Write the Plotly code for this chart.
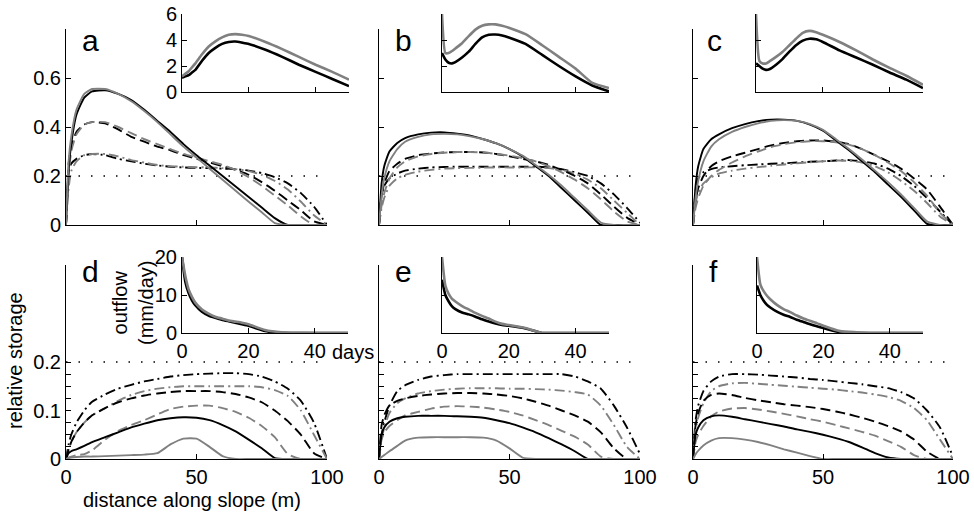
import plotly.graph_objects as go

W, H = 974, 515

# ---------------- data ----------------
# distance along slope (m) for main panels
X = [0, 1, 2, 4, 7, 10, 15, 20, 25, 30, 35, 40, 45, 50, 55, 60, 65, 70, 75, 80, 85, 90, 95, 100]
# days for inset panels
T = [0, 1, 2, 3, 4, 6, 8, 10, 12, 14, 16, 18, 20, 25, 30, 35, 40, 45, 50]

THR_X = [0, 100]
THR_Y = [0.2, 0.2]

# panel a
a_sk = [0, 0.22, 0.33, 0.45, 0.52, 0.545, 0.55, 0.535, 0.51, 0.47, 0.425, 0.38, 0.33, 0.285, 0.243, 0.20, 0.157, 0.114, 0.071, 0.028, 0, 0, 0, 0]
a_sg = [0, 0.26, 0.36, 0.47, 0.535, 0.555, 0.555, 0.535, 0.505, 0.465, 0.42, 0.37, 0.32, 0.275, 0.23, 0.185, 0.14, 0.095, 0.052, 0.008, 0, 0, 0, 0]
a_dk = [0, 0.25, 0.32, 0.38, 0.41, 0.42, 0.415, 0.39, 0.36, 0.34, 0.32, 0.305, 0.285, 0.27, 0.255, 0.24, 0.225, 0.205, 0.175, 0.14, 0.10, 0.06, 0.015, 0]
a_dg = [0, 0.2, 0.3, 0.37, 0.41, 0.42, 0.42, 0.40, 0.375, 0.35, 0.33, 0.31, 0.29, 0.275, 0.26, 0.245, 0.225, 0.195, 0.16, 0.12, 0.08, 0.035, 0, 0]
a_ddk = [0, 0.22, 0.25, 0.27, 0.285, 0.29, 0.285, 0.27, 0.26, 0.25, 0.243, 0.238, 0.235, 0.233, 0.232, 0.23, 0.228, 0.222, 0.212, 0.195, 0.17, 0.13, 0.075, 0]
a_ddg = [0, 0.15, 0.22, 0.26, 0.285, 0.29, 0.29, 0.28, 0.265, 0.255, 0.245, 0.24, 0.238, 0.236, 0.235, 0.232, 0.228, 0.22, 0.205, 0.18, 0.145, 0.095, 0.04, 0]
# panel b
b_sk = [0, 0.17, 0.24, 0.30, 0.335, 0.355, 0.37, 0.377, 0.378, 0.373, 0.365, 0.35, 0.333, 0.31, 0.28, 0.24, 0.2, 0.15, 0.1, 0.05, 0, 0, 0, 0]
b_sg = [0, 0.12, 0.19, 0.26, 0.31, 0.34, 0.36, 0.37, 0.372, 0.37, 0.362, 0.35, 0.333, 0.31, 0.283, 0.245, 0.205, 0.16, 0.11, 0.06, 0.01, 0, 0, 0]
b_dk = [0, 0.12, 0.17, 0.22, 0.25, 0.27, 0.285, 0.292, 0.296, 0.298, 0.298, 0.296, 0.29, 0.28, 0.27, 0.26, 0.245, 0.225, 0.2, 0.17, 0.125, 0.075, 0.03, 0]
b_dg = [0, 0.08, 0.13, 0.19, 0.235, 0.26, 0.28, 0.29, 0.295, 0.298, 0.298, 0.296, 0.29, 0.283, 0.273, 0.26, 0.24, 0.215, 0.185, 0.15, 0.105, 0.055, 0.015, 0]
b_ddk = [0, 0.12, 0.16, 0.19, 0.21, 0.222, 0.23, 0.235, 0.237, 0.238, 0.238, 0.238, 0.238, 0.238, 0.238, 0.238, 0.235, 0.228, 0.215, 0.2, 0.17, 0.125, 0.07, 0.01]
b_ddg = [0, 0.07, 0.11, 0.16, 0.19, 0.205, 0.218, 0.225, 0.23, 0.232, 0.233, 0.234, 0.235, 0.235, 0.235, 0.235, 0.232, 0.225, 0.21, 0.185, 0.15, 0.1, 0.05, 0]
# panel c
c_sk = [0, 0.16, 0.24, 0.31, 0.35, 0.37, 0.395, 0.412, 0.424, 0.43, 0.43, 0.425, 0.41, 0.385, 0.345, 0.305, 0.26, 0.215, 0.165, 0.115, 0.06, 0.005, 0, 0]
c_sg = [0, 0.11, 0.18, 0.26, 0.32, 0.35, 0.38, 0.40, 0.415, 0.425, 0.428, 0.425, 0.412, 0.388, 0.35, 0.31, 0.267, 0.222, 0.175, 0.125, 0.07, 0.015, 0, 0]
c_dk = [0, 0.1, 0.15, 0.2, 0.24, 0.26, 0.28, 0.295, 0.31, 0.325, 0.335, 0.342, 0.345, 0.345, 0.34, 0.33, 0.31, 0.285, 0.26, 0.23, 0.19, 0.145, 0.075, 0]
c_dg = [0, 0.07, 0.11, 0.16, 0.2, 0.225, 0.255, 0.28, 0.3, 0.318, 0.33, 0.338, 0.342, 0.342, 0.338, 0.328, 0.31, 0.285, 0.255, 0.22, 0.175, 0.12, 0.05, 0]
c_ddk = [0, 0.14, 0.19, 0.215, 0.228, 0.235, 0.24, 0.244, 0.247, 0.25, 0.252, 0.255, 0.258, 0.26, 0.263, 0.265, 0.26, 0.25, 0.23, 0.2, 0.16, 0.11, 0.055, 0]
c_ddg = [0, 0.09, 0.13, 0.17, 0.195, 0.21, 0.222, 0.23, 0.236, 0.242, 0.247, 0.252, 0.256, 0.26, 0.263, 0.262, 0.255, 0.24, 0.215, 0.18, 0.14, 0.09, 0.035, 0]
# panel d
d_sk = [0, 0.012, 0.016, 0.02, 0.027, 0.035, 0.045, 0.055, 0.065, 0.073, 0.08, 0.084, 0.086, 0.085, 0.08, 0.07, 0.057, 0.04, 0.022, 0.002, 0, 0, 0, 0]
d_sg = [0, 0.002, 0.003, 0.004, 0.005, 0.005, 0.006, 0.007, 0.008, 0.009, 0.012, 0.03, 0.042, 0.042, 0.025, 0.006, 0, 0, 0, 0, 0, 0, 0, 0]
d_dk = [0, 0.02, 0.035, 0.055, 0.075, 0.09, 0.105, 0.117, 0.125, 0.131, 0.135, 0.138, 0.14, 0.14, 0.14, 0.138, 0.134, 0.127, 0.117, 0.1, 0.078, 0.05, 0.012, 0]
d_dg = [0, 0.003, 0.005, 0.008, 0.01, 0.018, 0.04, 0.058, 0.07, 0.08, 0.092, 0.103, 0.108, 0.11, 0.11, 0.105, 0.097, 0.085, 0.068, 0.045, 0.01, 0, 0, 0]
d_ddk = [0, 0.03, 0.05, 0.075, 0.1, 0.118, 0.133, 0.145, 0.153, 0.16, 0.165, 0.17, 0.173, 0.175, 0.176, 0.177, 0.177, 0.175, 0.17, 0.16, 0.145, 0.12, 0.075, 0]
d_ddg = [0, 0.02, 0.035, 0.055, 0.075, 0.09, 0.105, 0.12, 0.132, 0.14, 0.145, 0.148, 0.15, 0.15, 0.15, 0.15, 0.15, 0.15, 0.148, 0.142, 0.13, 0.1, 0.05, 0]
# panel e
e_sk = [0, 0.05, 0.065, 0.077, 0.084, 0.087, 0.089, 0.089, 0.089, 0.088, 0.087, 0.085, 0.08, 0.074, 0.065, 0.055, 0.043, 0.03, 0.016, 0, 0, 0, 0, 0]
e_sg = [0, 0.004, 0.008, 0.016, 0.027, 0.038, 0.044, 0.045, 0.045, 0.045, 0.045, 0.044, 0.038, 0.022, 0.003, 0, 0, 0, 0, 0, 0, 0, 0, 0]
e_dk = [0, 0.07, 0.09, 0.11, 0.12, 0.125, 0.13, 0.133, 0.135, 0.136, 0.136, 0.135, 0.133, 0.13, 0.125, 0.118, 0.11, 0.1, 0.09, 0.077, 0.055, 0.022, 0, 0]
e_dg = [0, 0.04, 0.055, 0.068, 0.08, 0.09, 0.097, 0.104, 0.108, 0.109, 0.108, 0.106, 0.102, 0.097, 0.09, 0.08, 0.07, 0.058, 0.046, 0.03, 0.005, 0, 0, 0]
e_ddk = [0, 0.05, 0.075, 0.11, 0.14, 0.152, 0.163, 0.17, 0.173, 0.175, 0.175, 0.175, 0.175, 0.175, 0.175, 0.175, 0.175, 0.175, 0.17, 0.16, 0.145, 0.11, 0.065, 0.01]
e_ddg = [0, 0.04, 0.065, 0.095, 0.115, 0.125, 0.135, 0.14, 0.143, 0.145, 0.146, 0.146, 0.146, 0.145, 0.145, 0.144, 0.143, 0.141, 0.138, 0.133, 0.11, 0.07, 0.025, 0]
# panel f
f_sk = [0, 0.05, 0.065, 0.08, 0.088, 0.09, 0.087, 0.082, 0.077, 0.072, 0.067, 0.061, 0.056, 0.05, 0.043, 0.035, 0.024, 0.012, 0.003, 0, 0, 0, 0, 0]
f_sg = [0, 0.01, 0.017, 0.028, 0.038, 0.043, 0.043, 0.04, 0.035, 0.028, 0.02, 0.013, 0.006, 0, 0, 0, 0, 0, 0, 0, 0, 0, 0, 0]
f_dk = [0, 0.07, 0.095, 0.12, 0.132, 0.135, 0.132, 0.126, 0.121, 0.117, 0.113, 0.11, 0.107, 0.103, 0.098, 0.092, 0.085, 0.077, 0.068, 0.057, 0.04, 0.015, 0, 0]
f_dg = [0, 0.035, 0.05, 0.068, 0.088, 0.098, 0.104, 0.105, 0.102, 0.098, 0.093, 0.088, 0.082, 0.077, 0.07, 0.063, 0.056, 0.048, 0.037, 0.025, 0.008, 0, 0, 0]
f_ddk = [0, 0.08, 0.11, 0.14, 0.16, 0.17, 0.175, 0.175, 0.174, 0.172, 0.17, 0.168, 0.165, 0.163, 0.16, 0.157, 0.154, 0.15, 0.146, 0.138, 0.125, 0.1, 0.065, 0.005]
f_ddg = [0, 0.06, 0.085, 0.115, 0.14, 0.15, 0.156, 0.157, 0.155, 0.153, 0.151, 0.149, 0.147, 0.145, 0.143, 0.14, 0.137, 0.133, 0.128, 0.12, 0.105, 0.08, 0.04, 0]

# insets: outflow (mm/day) vs days
ia_k = [1.1, 1.2, 1.3, 1.5, 1.7, 2.4, 3.0, 3.4, 3.7, 3.85, 3.88, 3.8, 3.7, 3.25, 2.7, 2.1, 1.55, 1.0, 0.45]
ia_g = [1.2, 1.4, 1.6, 1.9, 2.2, 2.9, 3.5, 3.9, 4.2, 4.4, 4.45, 4.4, 4.3, 3.85, 3.3, 2.7, 2.1, 1.55, 0.95]
ib_k = [3.0, 2.5, 2.25, 2.2, 2.3, 2.65, 3.1, 3.7, 4.2, 4.4, 4.42, 4.35, 4.2, 3.7, 2.85, 2.0, 1.2, 0.5, 0.05]
ib_g = [6.0, 3.0, 3.0, 3.15, 3.35, 3.75, 4.3, 4.8, 5.1, 5.2, 5.2, 5.1, 4.95, 4.45, 3.6, 2.7, 1.8, 0.7, 0.3]
ic_k = [2.2, 2.0, 1.8, 1.7, 1.75, 2.1, 2.55, 3.1, 3.6, 3.95, 4.1, 4.05, 3.85, 3.2, 2.65, 2.1, 1.5, 0.95, 0.3]
ic_g = [6.0, 2.4, 2.2, 2.2, 2.35, 2.7, 3.1, 3.6, 4.1, 4.55, 4.7, 4.6, 4.4, 3.85, 3.2, 2.5, 1.85, 1.25, 0.55]
id_k = [20, 13.5, 10.5, 8.6, 7.3, 5.6, 4.6, 4.0, 3.5, 3.1, 2.7, 2.3, 1.9, 0.5, 0.05, 0, 0, 0, 0]
id_g = [20, 15, 11.5, 9.5, 8.0, 6.2, 5.1, 4.3, 3.8, 3.3, 3.0, 2.7, 2.3, 0.8, 0.2, 0.05, 0, 0, 0]
ie_k = [14, 10, 8.3, 7.0, 6.3, 5.4, 4.9, 4.3, 3.6, 3.0, 2.5, 2.1, 1.9, 1.2, 0, 0, 0, 0, 0]
ie_g = [20, 12.5, 10.3, 9.0, 8.3, 7.1, 6.2, 5.3, 4.5, 3.8, 3.0, 2.4, 2.1, 1.3, 0, 0, 0, 0, 0]
if_k = [12.5, 10, 8.5, 7.4, 6.7, 5.6, 4.8, 4.2, 3.5, 2.9, 2.3, 1.8, 1.3, 0.2, 0, 0, 0, 0, 0]
if_g = [20, 12.8, 11, 9.8, 8.9, 7.4, 6.3, 5.5, 4.6, 3.8, 3.2, 2.6, 1.9, 0.5, 0.2, 0, 0, 0, 0]

PANELS = {
    'a': (a_sk, a_sg, a_dk, a_dg, a_ddk, a_ddg, ia_k, ia_g),
    'b': (b_sk, b_sg, b_dk, b_dg, b_ddk, b_ddg, ib_k, ib_g),
    'c': (c_sk, c_sg, c_dk, c_dg, c_ddk, c_ddg, ic_k, ic_g),
    'd': (d_sk, d_sg, d_dk, d_dg, d_ddk, d_ddg, id_k, id_g),
    'e': (e_sk, e_sg, e_dk, e_dg, e_ddk, e_ddg, ie_k, ie_g),
    'f': (f_sk, f_sg, f_dk, f_dg, f_ddk, f_ddg, if_k, if_g),
}

# ---------------- layout geometry (pixels) ----------------
MAIN_X = {'a': (66, 327), 'b': (379, 640), 'c': (693, 953),
          'd': (66, 327), 'e': (379, 640), 'f': (693, 953)}
MAIN_Y = {'top': (29, 225), 'bot': (265, 459)}
INS_X = {'a': (182, 349), 'b': (442, 609), 'c': (756, 923),
         'd': (182, 348), 'e': (442, 609), 'f': (757, 923)}
INS_Y = {'top': (14, 92), 'bot': (257, 333)}

FONT = 'Liberation Sans, Arial, sans-serif'
BLACK = '#000000'
GRAY = '#808080'
DASH = '10px,5px'
DASHDOT = '10px,4px,2px,4px'
DOT = '1.5px,11px'
TICK_SIZE = 20


def xd(p):
    return [p[0] / W, p[1] / W]


def yd(p):
    return [1 - p[1] / H, 1 - p[0] / H]


fig = go.Figure()
layout = {}

base_ax = dict(showline=True, linecolor='black', linewidth=1, ticks='inside', ticklen=5,
               tickcolor='black', tickwidth=1, showgrid=False, zeroline=False,
               automargin=False,
               tickfont=dict(size=TICK_SIZE, color='black', family=FONT), fixedrange=True)

for i, p in enumerate('abcdef'):
    top = p in 'abc'
    row = 'top' if top else 'bot'
    m = i + 1
    n = i + 7
    sk, sg, dk, dg, ddk, ddg, ik, ig = PANELS[p]

    # main axes
    xm = dict(base_ax, domain=xd(MAIN_X[p]), range=[0, 100], anchor='y%d' % m,
              tickvals=[0, 50, 100], showticklabels=not top)
    if top:
        ym = dict(base_ax, domain=yd(MAIN_Y[row]), range=[0, 0.8], anchor='x%d' % m,
                  tickvals=[0, 0.2, 0.4, 0.6], ticktext=['0', '0.2', '0.4', '0.6'],
                  showticklabels=(p == 'a'))
    else:
        tv = [0, 0.025, 0.05, 0.075, 0.1, 0.125, 0.15, 0.175, 0.2]
        tt = ['0', '', '', '', '0.1', '', '', '', '0.2']
        ym = dict(base_ax, domain=yd(MAIN_Y[row]), range=[0, 0.4], anchor='x%d' % m,
                  tickvals=tv, ticktext=tt, showticklabels=(p == 'd'))
    layout['xaxis%d' % m] = xm
    layout['yaxis%d' % m] = ym

    # inset axes
    xi = dict(base_ax, domain=xd(INS_X[p]), range=[0, 50], anchor='y%d' % n,
              tickvals=[0, 20, 40], showticklabels=not top)
    if top:
        yi = dict(base_ax, domain=yd(INS_Y[row]), range=[0, 6], anchor='x%d' % n,
                  tickvals=[0, 2, 4, 6], showticklabels=(p == 'a'))
    else:
        yi = dict(base_ax, domain=yd(INS_Y[row]), range=[0, 20], anchor='x%d' % n,
                  tickvals=[0, 10, 20], showticklabels=(p == 'd'))
    layout['xaxis%d' % n] = xi
    layout['yaxis%d' % n] = yi

    xa, ya = 'x%d' % m, 'y%d' % m
    # threshold
    fig.add_trace(go.Scatter(x=THR_X, y=THR_Y, mode='lines', xaxis=xa, yaxis=ya,
                             line=dict(color=BLACK, width=1.4, dash=DOT), showlegend=False,
                             hoverinfo='skip'))
    for ys, col, dsh in [(ddk, BLACK, DASHDOT), (ddg, GRAY, DASHDOT),
                         (dk, BLACK, DASH), (dg, GRAY, DASH),
                         (sk, BLACK, 'solid'), (sg, GRAY, 'solid')]:
        fig.add_trace(go.Scatter(x=X, y=ys, mode='lines', xaxis=xa, yaxis=ya,
                                 line=dict(color=col, width=1.9, dash=dsh,
                                           shape='spline', smoothing=0.5),
                                 showlegend=False, hoverinfo='skip'))
    xb, yb = 'x%d' % n, 'y%d' % n
    fig.add_trace(go.Scatter(x=T, y=ik, mode='lines', xaxis=xb, yaxis=yb,
                             line=dict(color=BLACK, width=2.6, shape='spline', smoothing=0.5),
                             showlegend=False, hoverinfo='skip'))
    fig.add_trace(go.Scatter(x=T, y=ig, mode='lines', xaxis=xb, yaxis=yb,
                             line=dict(color=GRAY, width=2.6, shape='spline', smoothing=0.5),
                             showlegend=False, hoverinfo='skip'))

# annotations
ann = []
LETTERS = {'a': (80, 59), 'b': (393, 59), 'c': (705, 59),
           'd': (80, 290), 'e': (393, 290), 'f': (707, 290)}
for p, (lx, ly) in LETTERS.items():
    ann.append(dict(text=p, x=lx / W, y=1 - ly / H, xref='paper', yref='paper',
                    xanchor='left', yanchor='bottom', showarrow=False,
                    font=dict(size=30, color='black', family=FONT)))
ann.append(dict(text='relative storage', x=15 / W, y=1 - 361 / H, xref='paper', yref='paper',
                textangle=-90, showarrow=False, xanchor='center', yanchor='middle',
                font=dict(size=20, color='black', family=FONT)))
ann.append(dict(text='distance along slope (m)', x=192 / W, y=1 - 500 / H, xref='paper',
                yref='paper', showarrow=False, xanchor='center', yanchor='middle',
                font=dict(size=20, color='black', family=FONT)))
ann.append(dict(text='outflow<br>(mm/day)', x=133 / W, y=1 - 303 / H, xref='paper',
                yref='paper', textangle=-90, showarrow=False, xanchor='center',
                yanchor='middle', font=dict(size=20, color='black', family=FONT)))
ann.append(dict(text='days', x=353 / W, y=1 - 352 / H, xref='paper', yref='paper',
                showarrow=False, xanchor='center', yanchor='middle',
                font=dict(size=20, color='black', family=FONT)))

fig.update_layout(width=W, height=H, margin=dict(l=0, r=0, t=0, b=0, autoexpand=False),
                  paper_bgcolor='white', plot_bgcolor='rgba(0,0,0,0)',
                  showlegend=False, annotations=ann, **layout)

fig.write_html('out.html', config={'displayModeBar': False},
               post_script="document.body.style.margin='0';document.body.style.padding='0';")
